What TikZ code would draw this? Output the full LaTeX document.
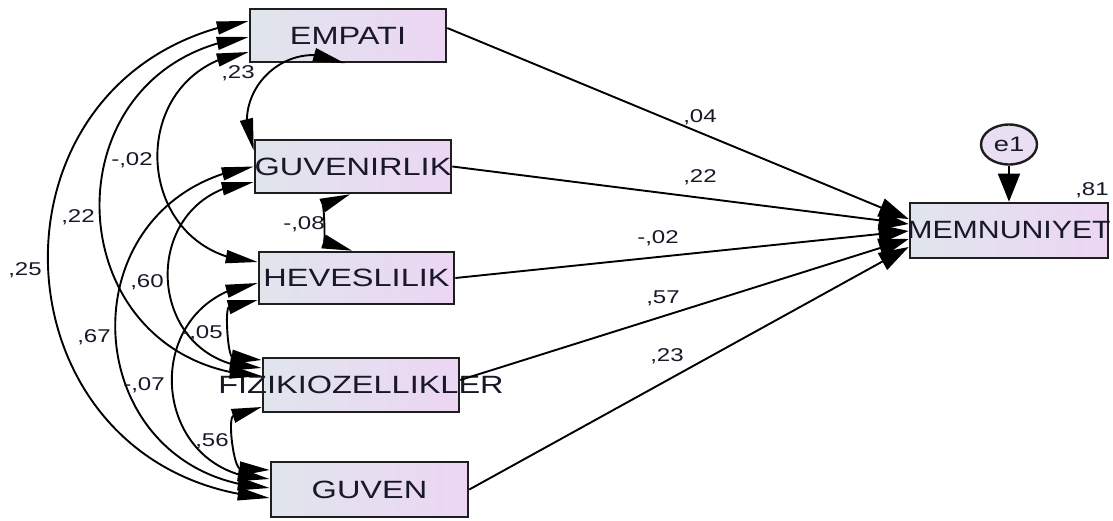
\documentclass[tikz,border=0pt]{standalone}
\usepackage{fontspec}
\setmainfont{Liberation Sans}
\usepackage{graphicx}
\usetikzlibrary{arrows.meta,bending,shapes.geometric}
\newcommand{\hstretch}[1]{\scalebox{1.3}[1]{#1}}
\definecolor{boxL}{RGB}{224,229,236}
\definecolor{boxR}{RGB}{236,214,244}
\definecolor{txt}{RGB}{24,24,40}
\definecolor{edge}{RGB}{30,30,30}
\definecolor{errfill}{RGB}{234,222,242}
\begin{document}
\begin{tikzpicture}[x=1pt,y=-1pt,
  var/.style={draw=edge, line width=2.6pt, left color=boxL, right color=boxR,
    minimum width=196pt, minimum height=53pt, inner sep=0pt,
    font=\fontsize{25}{25}\selectfont, text=txt},
  lab/.style={font=\fontsize{18.5}{18.5}\selectfont, text=txt, inner sep=0pt},
  pth/.style={line width=1.9pt, -{Triangle[length=30pt,width=19pt]}},
  cov/.style args={#1/#2}{line width=1.9pt,
    {Triangle[length=32pt,width=13pt]}-{Triangle[length=32pt,width=13pt]},
    bend right=#1, looseness=#2},
  covq/.style args={#1/#2}{line width=1.9pt,
    {Triangle[quick,length=30pt,width=14pt]}-{Triangle[quick,length=30pt,width=14pt]},
    bend right=#1, looseness=#2},
]
\useasboundingbox (0,0) rectangle (1113,520);
\fill[white] (0,0) rectangle (1113,520);

% variables
\node[var] (emp) at (348,35.5) {\makebox[0pt]{\hstretch{EMPATI}}};
\node[var] (gvr) at (353,166.5) {\makebox[0pt]{\hstretch{GUVENIRLIK}}};
\node[var, minimum width=195pt, minimum height=52pt] (hev) at (356.5,278) {\makebox[0pt]{\hstretch{HEVESLILIK}}};
\node[var, minimum height=54pt] (fiz) at (361,385) {\makebox[0pt]{\hstretch{FIZIKIOZELLIKLER}}};
\node[var, minimum width=197pt, minimum height=55pt] (guv) at (369.5,489.5) {\makebox[0pt]{\hstretch{GUVEN}}};
\node[var, minimum width=198pt, minimum height=55pt] (mem) at (1009,230.5) {\makebox[0pt]{\scalebox{1.21}[1]{MEMNUNIYET}}};
\node[draw=edge, line width=2.4pt, ellipse, fill=errfill, minimum width=56pt, minimum height=40pt,
  inner sep=0pt, text=txt, font=\fontsize{21}{21}\selectfont] (e1) at (1009,144.5) {\hstretch{e1}};

% regression paths
\draw[pth] ([yshift=7.5pt]emp.east) -- ([yshift=11.5pt]mem.west);
\draw[pth] (gvr.east) -- ([yshift=6.5pt]mem.west);
\draw[pth] (hev.east) -- ([yshift=-0.5pt]mem.west);
\draw[pth] ([yshift=5pt]fiz.east) -- ([yshift=-8.5pt]mem.west);
\draw[pth] (guv.east) -- ([yshift=-16.5pt]mem.west);
\draw[line width=1.9pt, -{Triangle[length=28pt,width=22pt]}] (e1.south) -- (mem.north);

% covariances
\draw[cov=72/1.30] ([xshift=-3pt]emp.south) to ([yshift=16pt]gvr.west);
\draw[covq=70/1.27] ([xshift=-3pt]gvr.south) to ([xshift=-4.5pt]hev.north);
\draw[covq=80/1.45] ([yshift=-22pt]hev.west) to ([yshift=25pt]fiz.west);
\draw[covq=80/1.45] ([yshift=-22pt]fiz.west) to ([yshift=19.5pt]guv.west);
\draw[cov=85/1.56] ([yshift=-16.5pt]emp.west) to ([yshift=16pt]hev.west);
\draw[cov=88/1.65] ([yshift=-15.5pt]gvr.west) to ([yshift=17pt]fiz.west);
\draw[cov=84/1.56] (gvr.west) to ([yshift=1.5pt]guv.west);
\draw[cov=86/1.60] ([yshift=-5pt]hev.west) to ([yshift=10.5pt]guv.west);
\draw[cov=85/1.57] ([yshift=-1.5pt]emp.west) to ([yshift=9pt]fiz.west);
\draw[cov=83/1.52] ([yshift=14.5pt]emp.west) to ([yshift=-8.5pt]guv.west);

% labels
\node[lab] (l04) at (700,117) {\hstretch{,04}};
\node[lab] (l22b) at (700,177) {\hstretch{,22}};
\node[lab] (l02b) at (658,238) {\hstretch{-,02}};
\node[lab] (l57) at (663,298) {\hstretch{,57}};
\node[lab] (l23b) at (667,356) {\hstretch{,23}};
\node[lab] (l81) at (1092,190) {\hstretch{,81}};
\node[lab] (l25) at (25,270) {\hstretch{,25}};
\node[lab] (l22) at (78,217) {\hstretch{,22}};
\node[lab] (l02) at (132,160) {\hstretch{-,02}};
\node[lab] (l23) at (238,73) {\hstretch{,23}};
\node[lab] (l60) at (147,282) {\hstretch{,60}};
\node[lab] (l67) at (94,337) {\hstretch{,67}};
\node[lab] (l07) at (144,385) {\hstretch{-,07}};
\node[lab] (l05) at (202,333) {\hstretch{-,05}};
\node[lab] (l56) at (212,441) {\hstretch{,56}};
\node[lab] (l08) at (304,224) {\hstretch{-,08}};
\end{tikzpicture}
\end{document}
